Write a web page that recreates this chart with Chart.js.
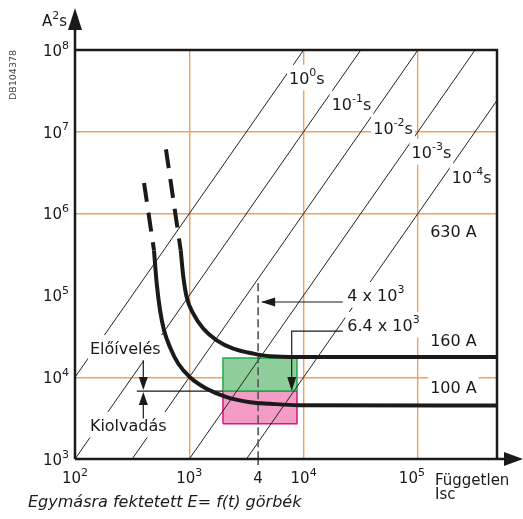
<!DOCTYPE html>
<html>
<head>
<meta charset="utf-8">
<script src="https://cdn.jsdelivr.net/npm/chart.js@4"></script>
<style>
  body { margin: 0; background: #fff; }
  #wrap { width: 523px; height: 519px; }
</style>
</head>
<body>
<div id="wrap"><canvas id="c" width="523" height="519"></canvas></div>
<script>
// axes
const xTicks = [1e2, 1e3, 1e4, 1e5];
const xTickLabels = [['10', '2'], ['10', '3'], ['10', '4'], ['10', '5']];
const yTicks = [1e3, 1e4, 1e5, 1e6, 1e7, 1e8];
const yTickLabels = [['10', '3'], ['10', '4'], ['10', '5'], ['10', '6'], ['10', '7'], ['10', '8']];
const xGridOn = [1e3, 1e4, 1e5];
const yGridOn = [1e4, 1e6, 1e7];
const xMax = 4.92e5;

// iso-time lines E = I^2 t, end points at I = 1e2 and I = 1e6
const isoI = [1e2, 1e6];
const isoE = [[1e4, 1e12], [1e3, 1e11], [1e2, 1e10], [1e1, 1e9], [1e0, 1e8]];
const isoNames = [[['10', 0], ['0', 1], ['s', 0]],
                  [['10', 0], ['-1', 1], ['s', 0]],
                  [['10', 0], ['-2', 1], ['s', 0]],
                  [['10', 0], ['-3', 1], ['s', 0]],
                  [['10', 0], ['-4', 1], ['s', 0]]];
const isoNameAt = [[7.45e3, 4.3e7], [1.76e4, 2.07e7], [4.07e4, 1.05e7], [8.8e4, 5.33e6], [1.98e5, 2.64e6]];

// fuse curves (dashed top part + solid part)
const c160DashI = [625, 841];
const c160DashE = [6.1e6, 3.56e5];
const c160I = [841, 887, 948, 1084, 1324, 1738, 2427, 3631, 5081, 9000, xMax];
const c160E = [3.56e5, 1.68e5, 9.55e4, 5.98e4, 3.93e4, 2.82e4, 2.23e4, 1.94e4, 1.80e4, 1.76e4, 1.76e4];
const c100DashI = [402, 491];
const c100DashE = [2.37e6, 3.56e5];
const c100I = [491, 519, 555, 601, 678, 802, 1014, 1419, 2123, 3396, 5081, 9000, xMax];
const c100E = [3.56e5, 1.39e5, 6.57e4, 3.74e4, 2.33e4, 1.46e4, 1.0e4, 7.23e3, 5.71e3, 4.95e3, 4.74e3, 4.55e3, 4.52e3];

const ratingNames = ['630 A', '160 A', '100 A'];
const ratingAt = [[1.28e5, 5.75e5], [1.28e5, 2.69e4], [1.28e5, 7.2e3]];

// boxes
const boxI = [1.97e3, 8.75e3];
const greenE = [6.76e3, 1.72e4];
const pinkE = [2.7e3, 6.76e3];

// markers
const markI = 4e3;
const markTopE = 1.41e5;
const mark4At = [2.41e4, 9.5e4];
const mark4ArrowE = 8.3e4;
const mark64At = [2.41e4, 4.1e4];
const mark64LeaderE = 3.66e4;
const mark64I = 7.87e3;
const leaderStartI = 2.2e4;
const eloAt = [135, 2.13e4];
const kioAt = [135, 2.45e3];
const splitLineI = [347, 1.97e3];
const splitArrowI = 396;
const splitArrowE = [1.61e4, 3.13e3];

const pts = (xs, ys) => xs.map((v, i) => ({ x: v, y: ys[i] }));
const boxPoly = (xs, ys) => pts([xs[0], xs[1], xs[1], xs[0], xs[0]], [ys[0], ys[0], ys[1], ys[1], ys[0]]);

const FONT = '"DejaVu Sans"';
function rich(ctx, parts, x, y, align, size, bg) {
  const big = size + 'px ' + FONT, small = Math.round(size * 0.7) + 'px ' + FONT;
  let w = 0;
  const ws = parts.map(([t, s]) => { ctx.font = s ? small : big; const m = ctx.measureText(t).width; w += m; return m; });
  let cx = align === 'right' ? x - w : align === 'center' ? x - w / 2 : x;
  if (bg) {
    ctx.fillStyle = '#fff';
    ctx.fillRect(cx - 2, y - size * 0.95, w + 4, size * 1.6);
  }
  ctx.fillStyle = '#1a1a1a';
  ctx.textBaseline = 'middle';
  ctx.textAlign = 'left';
  parts.forEach(([t, s], i) => {
    ctx.font = s ? small : big;
    ctx.fillText(t, cx, s ? y - size * 0.42 : y);
    cx += ws[i];
  });
}

function head(ctx, x, y, dir, len, half) {
  ctx.beginPath();
  ctx.moveTo(x, y);
  if (dir === 'left') { ctx.lineTo(x + len, y - half); ctx.lineTo(x + len, y + half); }
  if (dir === 'right') { ctx.lineTo(x - len, y - half); ctx.lineTo(x - len, y + half); }
  if (dir === 'down') { ctx.lineTo(x - half, y - len); ctx.lineTo(x + half, y - len); }
  if (dir === 'up') { ctx.lineTo(x - half, y + len); ctx.lineTo(x + half, y + len); }
  ctx.closePath();
  ctx.fill();
}

const annot = {
  id: 'annot',
  afterDatasetsDraw(chart) {
    const { ctx, chartArea: a, scales: { x, y } } = chart;
    const X = v => x.getPixelForValue(v), Y = v => y.getPixelForValue(v);
    ctx.save();

    // labels on white
    isoNames.forEach((p, i) => rich(ctx, p, X(isoNameAt[i][0]), Y(isoNameAt[i][1]), 'left', 16, true));
    ratingNames.forEach((n, i) => rich(ctx, [[n, 0]], X(ratingAt[i][0]), Y(ratingAt[i][1]), 'left', 16, true));
    rich(ctx, [['4 x 10', 0], ['3', 1]], X(mark4At[0]), Y(mark4At[1]), 'left', 16, true);
    rich(ctx, [['6.4 x 10', 0], ['3', 1]], X(mark64At[0]), Y(mark64At[1]), 'left', 16, true);
    rich(ctx, [['Előívelés', 0]], X(eloAt[0]), Y(eloAt[1]), 'left', 16, true);
    rich(ctx, [['Kiolvadás', 0]], X(kioAt[0]), Y(kioAt[1]), 'left', 16, true);

    // arrows and leaders
    ctx.strokeStyle = '#1a1a1a';
    ctx.fillStyle = '#1a1a1a';
    ctx.lineWidth = 1.2;
    ctx.beginPath();
    ctx.moveTo(X(leaderStartI), Y(mark4ArrowE));
    ctx.lineTo(X(markI) + 4, Y(mark4ArrowE));
    ctx.stroke();
    head(ctx, X(markI) + 3, Y(mark4ArrowE), 'left', 14, 4.5);

    ctx.beginPath();
    ctx.moveTo(X(leaderStartI), Y(mark64LeaderE));
    ctx.lineTo(X(mark64I), Y(mark64LeaderE));
    ctx.lineTo(X(mark64I), Y(greenE[0]) - 4);
    ctx.stroke();
    head(ctx, X(mark64I), Y(greenE[0]), 'down', 14, 4.5);

    ctx.beginPath();
    ctx.moveTo(X(splitLineI[0]), Y(greenE[0]));
    ctx.lineTo(X(splitLineI[1]), Y(greenE[0]));
    ctx.moveTo(X(splitArrowI), Y(splitArrowE[0]));
    ctx.lineTo(X(splitArrowI), Y(greenE[0]) - 4);
    ctx.moveTo(X(splitArrowI), Y(splitArrowE[1]));
    ctx.lineTo(X(splitArrowI), Y(greenE[0]) + 4);
    ctx.stroke();
    head(ctx, X(splitArrowI), Y(greenE[0]) - 1, 'down', 13, 4.5);
    head(ctx, X(splitArrowI), Y(greenE[0]) + 1, 'up', 13, 4.5);

    // frame and axis arrows
    ctx.strokeStyle = '#1a1a1a';
    ctx.lineWidth = 2.5;
    ctx.beginPath();
    ctx.moveTo(a.left, a.top);
    ctx.lineTo(a.right, a.top);
    ctx.lineTo(a.right, a.bottom);
    ctx.moveTo(a.left, a.bottom);
    ctx.lineTo(516, a.bottom);
    ctx.moveTo(a.left, a.bottom);
    ctx.lineTo(a.left, 16);
    ctx.stroke();
    head(ctx, 523, a.bottom, 'right', 19, 7);
    head(ctx, a.left, 8, 'up', 22, 7);
    ctx.lineWidth = 1.2;
    ctx.beginPath();
    ctx.moveTo(X(markI), a.bottom);
    ctx.lineTo(X(markI), a.bottom + 6);
    ctx.stroke();

    // tick labels
    xTicks.forEach((v, i) => {
      const off = v === 1e5 ? -6 : 0;
      rich(ctx, [[xTickLabels[i][0], 0], [xTickLabels[i][1], 1]], X(v) + off, a.bottom + 20, 'center', 15, false);
    });
    rich(ctx, [['4', 0]], X(markI), a.bottom + 20, 'center', 15, false);
    yTicks.forEach((v, i) => {
      rich(ctx, [[yTickLabels[i][0], 0], [yTickLabels[i][1], 1]], a.left - 6, Y(v) + 2, 'right', 15, false);
    });

    // titles
    rich(ctx, [['A', 0], ['2', 1], ['s', 0]], 42, 22, 'left', 15, false);
    ctx.font = '15px ' + FONT;
    ctx.textBaseline = 'alphabetic';
    ctx.fillText('Független', 435, 485);
    ctx.fillText('Isc', 435, 499);
    ctx.font = 'italic 16px ' + FONT;
    ctx.fillText('Egymásra fektetett E= f(t) görbék', 28, 507);
    ctx.translate(16, 75);
    ctx.rotate(-Math.PI / 2);
    ctx.font = '9.5px ' + FONT;
    ctx.fillStyle = '#444';
    ctx.textAlign = 'center';
    ctx.fillText('DB104378', 0, 0);
    ctx.restore();
  }
};

const curve = { borderColor: '#1a1a1a', borderWidth: 4, order: 1 };
const datasets = [
  { data: boxPoly(boxI, greenE), backgroundColor: '#8fce9b', borderColor: '#22aa4a', borderWidth: 1.5, fill: 'shape', order: 10 },
  { data: boxPoly(boxI, pinkE), backgroundColor: '#f49cc6', borderColor: '#e0147c', borderWidth: 1.5, fill: 'shape', order: 10 },
  ...isoE.map(e => ({ data: pts(isoI, e), borderColor: '#222', borderWidth: 1, order: 5 })),
  { data: pts([markI, markI], [markTopE, 1e3]), borderColor: '#555', borderWidth: 1.6, borderDash: [8, 4], order: 4 },
  { ...curve, data: pts(c160DashI, c160DashE), borderDash: [19, 11] },
  { ...curve, data: pts(c100DashI, c100DashE), borderDash: [19, 11] },
  { ...curve, data: pts(c160I, c160E), cubicInterpolationMode: 'monotone' },
  { ...curve, data: pts(c100I, c100E), cubicInterpolationMode: 'monotone' }
];

const gridColor = list => ctx => list.includes(ctx.tick.value) ? '#f5a05a' : 'rgba(0,0,0,0)';

new Chart(document.getElementById('c'), {
  type: 'line',
  data: { datasets },
  options: {
    responsive: false,
    animation: false,
    events: [],
    layout: { padding: { left: 75, top: 50, right: 26, bottom: 60 } },
    elements: { point: { radius: 0 }, line: { fill: false } },
    plugins: { legend: { display: false }, tooltip: { enabled: false } },
    scales: {
      x: {
        type: 'logarithmic', min: 1e2, max: xMax,
        ticks: { display: false },
        border: { display: false },
        grid: { color: gridColor(xGridOn), lineWidth: 1.4, drawTicks: false },
        afterBuildTicks: s => { s.ticks = xTicks.map(v => ({ value: v })); }
      },
      y: {
        type: 'logarithmic', min: 1e3, max: 1e8,
        ticks: { display: false },
        border: { display: false },
        grid: { color: gridColor(yGridOn), lineWidth: 1.4, drawTicks: false },
        afterBuildTicks: s => { s.ticks = yTicks.map(v => ({ value: v })); }
      }
    }
  },
  plugins: [annot]
});
</script>
</body>
</html>
